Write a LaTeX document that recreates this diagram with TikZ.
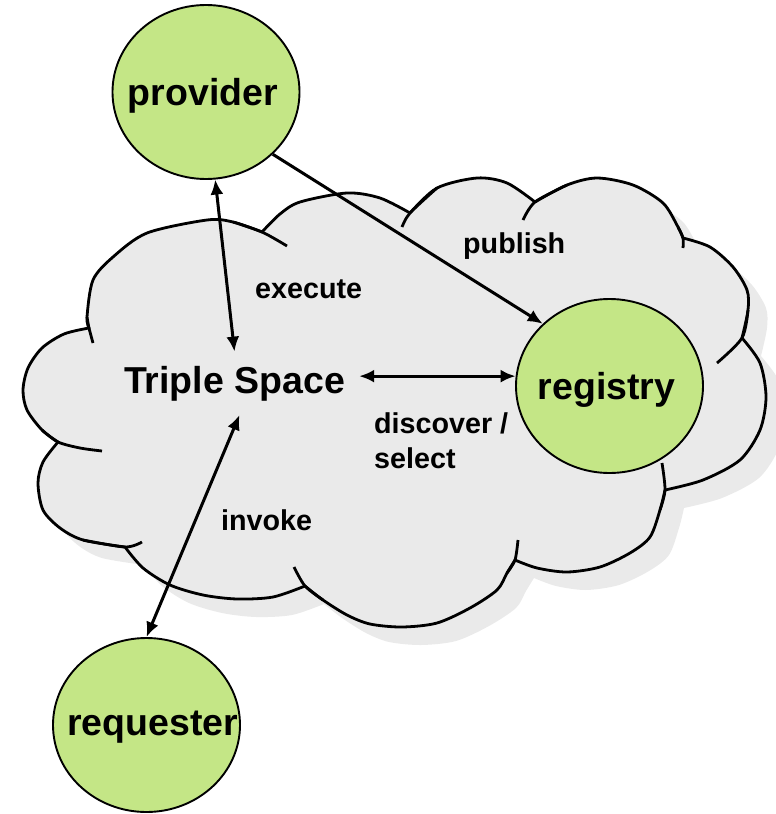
\documentclass[tikz,border=0pt]{standalone}
\usepackage{fontspec}
\setmainfont{Liberation Sans}
\usetikzlibrary{arrows.meta}
\usetikzlibrary{shapes.geometric}
\definecolor{agentgreen}{RGB}{196,230,134}
\definecolor{spacegray}{RGB}{234,234,234}

\begin{document}
\begin{tikzpicture}[x=1pt,y=-1pt,>/.tip={Latex[length=15pt,width=13pt]},
	agent/.style={draw,shape=ellipse,fill=agentgreen,line width=1.9pt,minimum width=187pt,minimum height=174pt,inner sep=0pt},
	big/.style={font=\bfseries\fontsize{37.5}{45}\selectfont,inner sep=0pt},
	lbl/.style={font=\bfseries\fontsize{28.7}{34.5}\selectfont,inner sep=0pt},
	link/.style={line width=3pt},
	rim/.style={line width=2.8pt,line join=round}]
	\useasboundingbox (0,0) rectangle (776,814);
	\clip (0,0) rectangle (776,814);

	% the cloud, with its shadow
	\filldraw[rim,fill=spacegray,preaction={fill=spacegray,transform canvas={shift={(19pt,-18pt)}}}]
		plot[smooth] coordinates {(58,442) (42,430) (27,410) (23,390) (28,368) (42,348) (64,334) (89,328)}
		-- plot[smooth] coordinates {(89,328) (87,317) (93,280) (113,257) (147,233) (207,220) (233,222) (262,232)}
		-- plot[smooth] coordinates {(262,232) (280,214) (300,202) (347,193) (380,198) (410,213)}
		-- plot[smooth] coordinates {(410,213) (437,188) (477,178) (507,183) (535,202)}
		-- plot[smooth] coordinates {(535,202) (567,185) (597,178) (633,185) (663,203) (678,227) (683,238)}
		-- plot[smooth] coordinates {(683,238) (710,247) (733,267) (747,290) (748,310) (742,338)}
		-- plot[smooth] coordinates {(742,338) (760,363) (766,397) (760,430) (740,460) (703,480) (665,490)}
		-- plot[smooth] coordinates {(665,490) (660,510) (650,537) (630,553) (600,567) (567,572) (537,568) (515,560)}
		-- plot[smooth] coordinates {(515,560) (507,573) (497,590) (470,608) (437,623) (402,627) (370,624) (347,615) (323,600) (305,586)}
		-- plot[smooth] coordinates {(305,586) (273,597) (237,599) (203,595) (170,585) (143,568) (125,547)}
		-- plot[smooth] coordinates {(125,547) (83,540) (60,528) (43,510) (38,483) (43,462) (58,442)}
		-- cycle;
	\draw[rim] plot[smooth] coordinates {(87,317) (89,328) (93,343)};
	\draw[rim] plot[smooth] coordinates {(233,222) (262,232) (287,246)};
	\draw[rim] plot[smooth] coordinates {(437,188) (410,213) (402,227)};
	\draw[rim] plot[smooth] coordinates {(567,185) (535,202) (523,220)};
	\draw[rim] plot[smooth] coordinates {(678,227) (683,238) (683,248)};
	\draw[rim] plot[smooth] coordinates {(748,310) (742,338) (717,363)};
	\draw[rim] plot[smooth] coordinates {(660,510) (665,490) (662,463)};
	\draw[rim] plot[smooth] coordinates {(507,573) (515,560) (518,540)};
	\draw[rim] plot[smooth] coordinates {(323,600) (305,586) (294,567)};
	\draw[rim] plot[smooth] coordinates {(83,540) (125,547) (142,542)};
	\draw[rim] plot[smooth] coordinates {(42,430) (58,442) (80,448) (102,451)};

	\draw (234.5,393) node (ts) [big,anchor=base,inner sep=14pt] {Triple Space};
	\draw (206,92) node (provider) [agent,label={[big,xshift=-3pt,yshift=-4pt]center:provider}] {};
	\draw (609.5,386) node (registry) [agent,label={[big,xshift=-3pt,yshift=-4pt]center:registry}] {};
	\draw (146.5,725) node (requester) [agent,label={[big,xshift=6pt,yshift=-2pt]center:requester}] {};

	\draw (255,298) node (execute) [lbl,anchor=base west] {execute};
	\draw (463,253) node (publish) [lbl,anchor=base west] {publish};
	\draw (374,468) node (discover) [lbl,anchor=base west,align=left] {discover /\\select};
	\draw (221,530) node (invoke) [lbl,anchor=base west] {invoke};

	\draw[link,<->] (provider.-84) -- (ts.north);
	\draw[link,->] (provider.-43) -- (registry.137);
	\draw[link,<->] (ts.east |- registry.174) -- (registry.174);
	\draw[link,<->] ([xshift=5pt]ts.south) -- (requester.north);
\end{tikzpicture}
\end{document}
